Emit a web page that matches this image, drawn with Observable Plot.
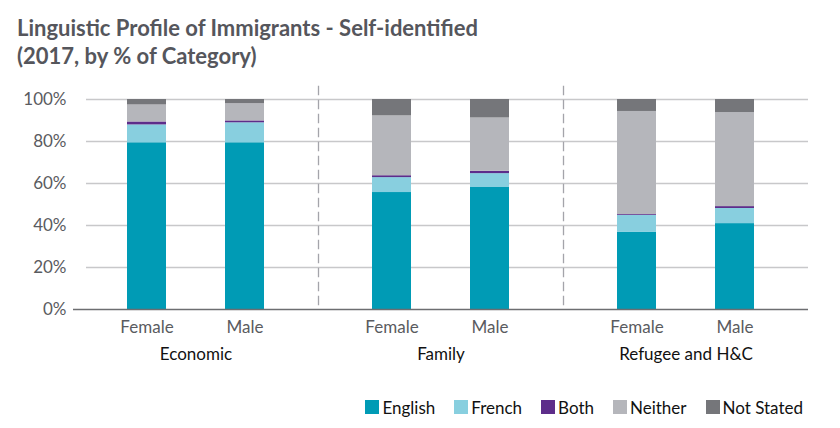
<!DOCTYPE html>
<html>
<head>
<meta charset="utf-8">
<script src="https://cdn.jsdelivr.net/npm/d3@7"></script>
<script src="https://cdn.jsdelivr.net/npm/@observablehq/plot@0.6"></script>
<style>
  html, body { margin: 0; padding: 0; background: #fff; width: 840px; height: 428px; overflow: hidden; }
  body { position: relative; font-family: Lato, "Open Sans", sans-serif; }
  #title { position: absolute; left: 17px; top: 14px; font-size: 22px; line-height: 28px; font-weight: 700; color: #55565c; }
  #chart { position: absolute; left: 0; top: 76px; }
  #legend { position: absolute; right: 37px; top: 398px; font-size: 17px; line-height: 20px; color: #111; white-space: nowrap; }
  #legend .item { display: inline-block; margin-left: 19px; }
  #legend .sw { display: inline-block; width: 14px; height: 14px; margin-right: 3px; }
</style>
</head>
<body>
<div id="title">Linguistic Profile of Immigrants - Self-identified<br>(2017, by % of Category)</div>
<div id="chart"></div>
<div id="legend"></div>
<script>
const categories = ["Economic", "Family", "Refugee and H&C"];
const sexes = ["Female", "Male"];
const languages = ["English", "French", "Both", "Neither", "Not Stated"];
const colors = ["#009bb5", "#88cfdf", "#5d2d8a", "#b5b6bb", "#75767a"];
// values per group in order: Economic F, Economic M, Family F, Family M, Refugee F, Refugee M
const english   = [79.4, 79.4, 55.7, 58.1, 36.7, 40.9];
const french    = [8.5, 9.5, 7.1, 6.6, 8.1, 7.2];
const both      = [1.4, 0.9, 0.9, 1.1, 0.4, 0.9];
const neither   = [8.1, 8.2, 28.5, 25.4, 49.1, 44.8];
const notStated = [2.6, 2.0, 7.8, 8.8, 5.7, 6.2];
const yTicks = [0, 20, 40, 60, 80, 100];

const series = [english, french, both, neither, notStated];
const data = [];
languages.forEach((lang, li) => {
  categories.forEach((cat, ci) => {
    sexes.forEach((sex, si) => {
      data.push({category: cat, sex, language: lang, value: series[li][ci * 2 + si]});
    });
  });
});

const gridFirst = yTicks.filter(t => t > 0).map(t => ({category: categories[0], v: t}));
const gridRest = categories.slice(1).flatMap(c => yTicks.filter(t => t > 0).map(t => ({category: c, v: t})));
const sepStyle = {anchor: "left", stroke: "#a4a4aa", strokeWidth: 1.3, strokeDasharray: "8,6", insetTop: -13};

const chart = Plot.plot({
  width: 840,
  height: 295,
  marginTop: 23,
  marginBottom: 62,
  marginLeft: 72,
  marginRight: 32,
  style: {fontFamily: "Lato, 'Open Sans', sans-serif", fontSize: "17px", color: "#5a5b60", background: "transparent", overflow: "visible"},
  fx: {domain: categories, padding: 0, label: null},
  x: {domain: sexes, paddingInner: 0.6, paddingOuter: 0.55, label: null},
  y: {domain: [0, 100], label: null},
  color: {domain: languages, range: colors},
  marks: [
    Plot.ruleY(gridFirst, {fx: "category", y: "v", stroke: "#c8c8ca", strokeWidth: 1.6, insetLeft: 13}),
    Plot.ruleY(gridRest, {fx: "category", y: "v", stroke: "#c8c8ca", strokeWidth: 1.6}),
    Plot.barY(data, {fx: "category", x: "sex", y: "value", fill: "language"}),
    ...categories.slice(1).map(c => Plot.frame({...sepStyle, fx: [c]})),
    Plot.ruleY([0], {stroke: "#6d6e71", strokeWidth: 1.6}),
    Plot.axisY({ticks: yTicks, tickSize: 0, tickPadding: 7, tickFormat: d => d + "%", fontSize: 17}),
    Plot.axisX({tickSize: 0, tickPadding: 11, fontSize: 17}),
    Plot.axisFx({anchor: "bottom", tickSize: 0, tickPadding: 38, fontSize: 17, fill: "#111"})
  ]
});
document.getElementById("chart").appendChild(chart);

const legend = document.getElementById("legend");
languages.forEach((lang, i) => {
  const item = document.createElement("span");
  item.className = "item";
  const sw = document.createElement("span");
  sw.className = "sw";
  sw.style.background = colors[i];
  item.appendChild(sw);
  item.appendChild(document.createTextNode(lang));
  legend.appendChild(item);
});
</script>
</body>
</html>
